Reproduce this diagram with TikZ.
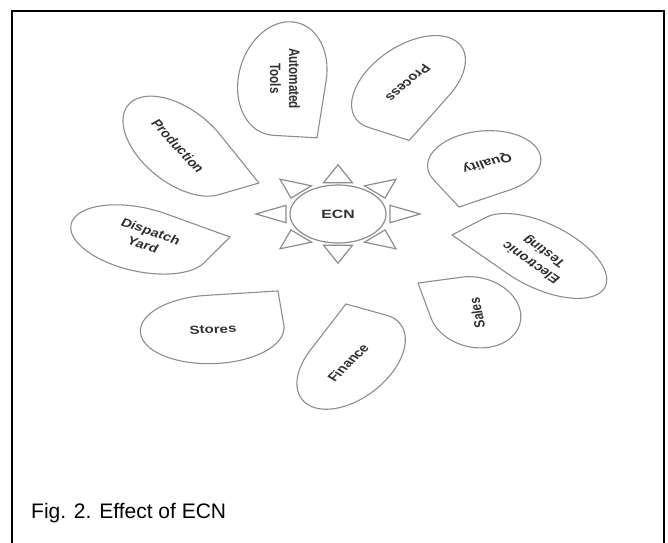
\documentclass[tikz,border=0pt]{standalone}
\usepackage{fontspec}
\setmainfont{Liberation Sans}
\usetikzlibrary{shapes.geometric}

\definecolor{outline}{HTML}{8C8C8C}
\definecolor{ink}{HTML}{303030}

\tikzset{
  petal/.style={draw=outline, line width=1.1pt, line join=round},
  ray/.style={draw=outline, line width=1.2pt},
  hub/.style={ellipse, draw=outline, line width=1.2pt, minimum width=96pt,
    minimum height=58pt, inner sep=0pt, text=ink, font=\fontsize{15}{18}\selectfont\bfseries},
  lbl/.style={text=ink, align=center, inner sep=0pt,
    font=\fontsize{15}{19}\selectfont\bfseries, yscale=0.78},
}

\begin{document}
\begin{tikzpicture}[x=1pt, y=1pt]
    \useasboundingbox (0,0) rectangle (668,542);

    % frame
    \draw[line width=2pt] (12,-5) |- (663.5,530.5) -- (663.5,-5);

    \begin{scope}[shift={(338,328)}, yscale=0.6]
        \node[hub] (ecn) at (0,0) {\scalebox{1.05}[0.8]{ECN}};

        \foreach \a in {0,45,...,315}
            \draw[ray, rotate=\a] (52,-14.5) -- (82,0) -- (52,14.5) -- cycle;

        % petals
        \draw[petal, shift={(-55.7,225.7)}, rotate=-95.5] (95,0) arc[start angle=0, end angle=-270, x radius=95, y radius=44] -- (95,44) -- cycle;
        \draw[petal, shift={(70.5,219.3)}, rotate=-118] (85,0) arc[start angle=0, end angle=-270, x radius=85, y radius=46] -- (85,46) -- cycle;
        \draw[petal, shift={(146.2,85.4)}, rotate=209.3] (58,0) arc[start angle=0, end angle=-270, x radius=58, y radius=52] -- (58,52) -- cycle;
        \draw[petal, shift={(203.6,-69.9)}, rotate=130.8] (85,0) arc[start angle=0, end angle=-270, x radius=85, y radius=45] -- (85,45) -- cycle;
        \draw[petal, shift={(137,-163.8)}, rotate=102.6] (60,0) arc[start angle=0, end angle=-270, x radius=60, y radius=45] -- (60,45) -- cycle;
        \draw[petal, shift={(13.1,-246)}, rotate=65.2] (85,0) arc[start angle=0, end angle=-270, x radius=85, y radius=45] -- (85,45) -- cycle;
        \draw[petal, shift={(-125.8,-192.3)}, rotate=5.9] (72,0) arc[start angle=0, end angle=-270, x radius=72, y radius=57] -- (72,57) -- cycle;
        \draw[petal, shift={(-198,-42.4)}, rotate=-31.1] (75,0) arc[start angle=0, end angle=-270, x radius=75, y radius=50] -- (75,50) -- cycle;
        \draw[petal, shift={(-158.7,113.1)}, rotate=-64.2] (90,0) arc[start angle=0, end angle=-270, x radius=90, y radius=45] -- (90,45) -- cycle;

        % labels
        \node[lbl, rotate=-90] (tools) at (-53,225.7) {Automated\\Tools};
        \node[lbl, rotate=-132] (process) at (70,218) {Process};
        \node[lbl, rotate=-161] (quality) at (149,85.4) {Quality};
        \node[lbl, rotate=138] (testing) at (200,-71) {Electronic\\Testing};
        \node[lbl, rotate=99] (sales) at (139,-165) {Sales};
        \node[lbl, rotate=52] (finance) at (10,-248) {Finance};
        \node[lbl, rotate=3] (stores) at (-125,-192.3) {Stores};
        \node[lbl, rotate=-24] (dispatch) at (-191,-40) {Dispatch\\Yard};
        \node[lbl, rotate=-54] (production) at (-160,113.1) {Production};
    \end{scope}

    \node[anchor=base west, inner sep=0pt, font=\fontsize{21}{25}\selectfont] (caption) at (31,24) {Fig. 2. Effect of ECN};
\end{tikzpicture}
\end{document}
